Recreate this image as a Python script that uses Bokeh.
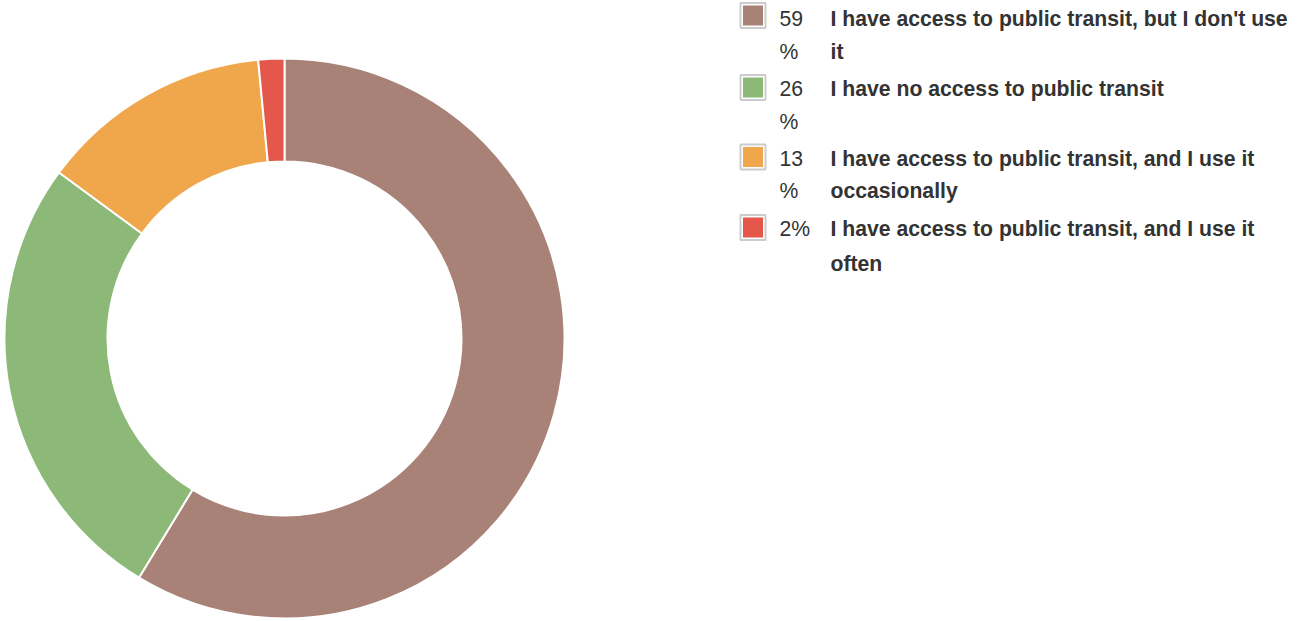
import math
from bokeh.plotting import figure
from bokeh.models import Range1d, ColumnDataSource
from bokeh.core.properties import value
from bokeh.embed import file_html
from bokeh.resources import INLINE

# Data
labels = [
    "I have access to public transit, but I don't use it",
    "I have no access to public transit",
    "I have access to public transit, and I use it occasionally",
    "I have access to public transit, and I use it often",
]
shares = [58.7, 26.4, 13.4, 1.5]
pct_text = ["59", "26", "13", "2%"]
pct_line2 = ["%", "%", "%", ""]
label_line1 = ["I have access to public transit, but I don't use",
               "I have no access to public transit",
               "I have access to public transit, and I use it",
               "I have access to public transit, and I use it"]
label_line2 = ["it", "", "occasionally", "often"]
colors = ["#a88276", "#8cb977", "#f0a64a", "#e5574a"]

W, H = 1292, 619
p = figure(width=W, height=H, output_backend="svg", toolbar_location=None,
           x_range=Range1d(0, W), y_range=Range1d(621 - H, 621),
           min_border=0)
p.axis.visible = False
p.grid.visible = False
p.outline_line_color = None

def Y(img_y):
    return 621 - img_y

total = sum(shares)
cum = 0.0
starts, ends = [], []
for s in shares:
    starts.append(math.pi / 2 - 2 * math.pi * cum / total)
    cum += s
    ends.append(math.pi / 2 - 2 * math.pi * cum / total)

src = ColumnDataSource(dict(start=starts, end=ends, color=colors))
p.annular_wedge(x=284, y=Y(338), inner_radius=177, outer_radius=280,
                start_angle="start", end_angle="end", direction="clock",
                fill_color="color", line_color="white", line_width=2, source=src)

# Legend
sw_y = [15, 87, 156.5, 227]
l1_y = [18, 88, 158, 228]
l2_y = [51, 121, 190, 263]
sx = 752.5
FS = "21.2px"
p.rect(x=[sx] * 4, y=[Y(v) for v in sw_y], width=25, height=25,
       fill_color="white", line_color="#cccccc", line_width=2)
p.rect(x=[sx] * 4, y=[Y(v) for v in sw_y], width=20, height=20,
       fill_color=colors, line_color=None)

p.text(x=[779] * 4, y=[Y(v) for v in l1_y], text=pct_text,
       text_font=value("Liberation Sans"), text_font_size=FS,
       text_color="#333333", text_baseline="middle")
p.text(x=[779] * 4, y=[Y(v) for v in l2_y], text=pct_line2,
       text_font=value("Liberation Sans"), text_font_size=FS,
       text_color="#333333", text_baseline="middle")
p.text(x=[830] * 4, y=[Y(v) for v in l1_y], text=label_line1,
       text_font=value("Liberation Sans"), text_font_size=FS,
       text_font_style="bold", text_color="#333333", text_baseline="middle")
p.text(x=[830] * 4, y=[Y(v) for v in l2_y], text=label_line2,
       text_font=value("Liberation Sans"), text_font_size=FS,
       text_font_style="bold", text_color="#333333", text_baseline="middle")

open("out.html", "w").write(file_html(p, INLINE))
